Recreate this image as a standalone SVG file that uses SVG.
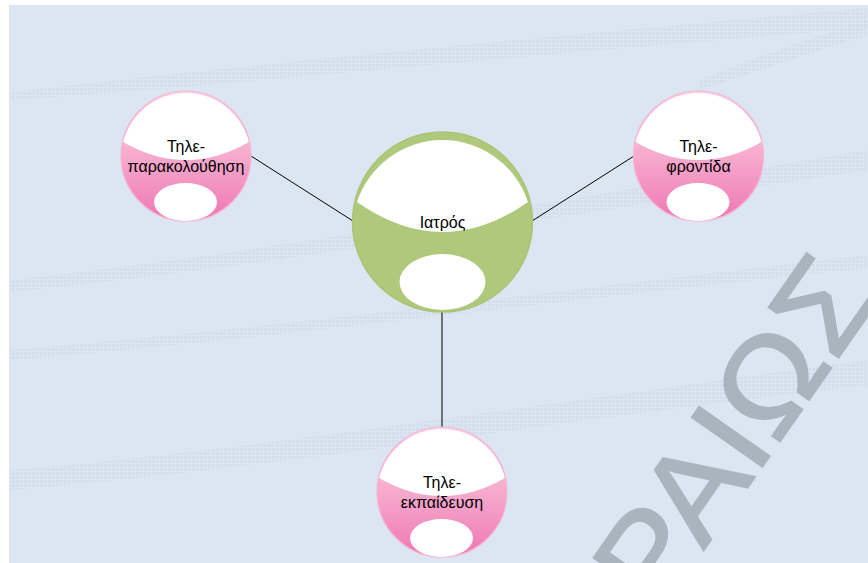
<svg xmlns="http://www.w3.org/2000/svg" width="868" height="563" viewBox="0 0 868 563">
  <defs>
    <linearGradient id="pinkFill" x1="0" y1="0" x2="0" y2="1">
      <stop offset="0" stop-color="#fbd3e6"/>
      <stop offset="0.5" stop-color="#f6aacd"/>
      <stop offset="1" stop-color="#ef77b2"/>
    </linearGradient>
    <pattern id="mesh" width="4" height="4" patternUnits="userSpaceOnUse">
      <rect width="4" height="4" fill="#dce6f2"/>
      <rect width="3" height="3" fill="#ccd8e7"/>
    </pattern>
    <clipPath id="frame">
      <rect x="9" y="5" width="859" height="558"/>
    </clipPath>
  </defs>
  <style>
    .link { stroke: #000000; stroke-width: 1; fill: none; }
    .label { font-family: "Liberation Sans", Arial, sans-serif; font-size: 16px; fill: #000000; text-anchor: middle; }
    .pink { fill: url(#pinkFill); stroke: #f7b3d3; stroke-width: 1.2; }
    .green { fill: #afc97c; stroke: #a9c474; stroke-width: 1.5; }
    .hole { fill: #ffffff; }
    .band { fill: url(#mesh); opacity: 0.5; }
    .mark { font-family: "Liberation Sans", Arial, sans-serif; font-size: 125px; fill: #aab4be; stroke: #aab4be; stroke-width: 2; }
  </style>

  <!-- page -->
  <rect width="868" height="563" fill="#ffffff"/>
  <g clip-path="url(#frame)">
    <rect x="9" y="5" width="859" height="558" fill="#dce6f2"/>
    <!-- soft swooshes in the backdrop -->
    <path class="band" d="M10,92 C200,70 500,40 868,8 L868,28 C520,55 230,85 10,100 Z"/>
    <path class="band" d="M10,280 C250,255 560,200 868,150 L868,170 C560,215 260,268 10,292 Z"/>
    <path class="band" d="M10,350 C260,330 560,290 868,255 L868,268 C560,300 260,340 10,360 Z"/>
    <path class="band" d="M10,470 C260,450 560,400 868,360 L868,385 C560,420 260,470 10,490 Z"/>
    <path class="band" d="M700,80 C760,55 820,35 868,20 L868,35 C820,50 760,70 700,90 Z"/>
    <!-- watermark -->
    <text class="mark" transform="translate(528.6,800.3) rotate(-55) scale(1.08,1)">ΠΕΙΡΑΙΩΣ</text>
  </g>

  <!-- connectors -->
  <g id="connectors">
    <line class="link" x1="251" y1="156" x2="353" y2="221"/>
    <line class="link" x1="532" y1="221" x2="634" y2="156"/>
    <line class="link" x1="442" y1="312" x2="442" y2="427"/>
  </g>

  <!-- central node -->
  <g id="node-iatros">
    <circle class="green" cx="442.5" cy="222" r="90"/>
    <path class="hole" d="M357,202 A90,90 0 0 1 528,202 Q442.5,262 357,202 Z"/>
    <ellipse class="hole" cx="442.5" cy="282" rx="43" ry="28"/>
    <text class="label" x="442.5" y="228">Ιατρός</text>
  </g>

  <!-- left node -->
  <g id="node-parakolouthisi">
    <circle class="pink" cx="186" cy="156" r="65"/>
    <path class="hole" d="M123,142 A65,65 0 0 1 249,142 Q186,178 123,142 Z"/>
    <ellipse class="hole" cx="185.5" cy="202" rx="31.5" ry="19"/>
    <text class="label" x="186" y="152">Τηλε-</text>
    <text class="label" x="186" y="172">παρακολούθηση</text>
  </g>

  <!-- right node -->
  <g id="node-fronitida">
    <circle class="pink" cx="698.5" cy="156" r="65"/>
    <path class="hole" d="M635.5,142 A65,65 0 0 1 761.5,142 Q698.5,178 635.5,142 Z"/>
    <ellipse class="hole" cx="698" cy="202" rx="31.5" ry="19"/>
    <text class="label" x="698.5" y="152">Τηλε-</text>
    <text class="label" x="698.5" y="172">φροντίδα</text>
  </g>

  <!-- bottom node -->
  <g id="node-ekpaideusi">
    <circle class="pink" cx="442" cy="492" r="65"/>
    <path class="hole" d="M379,478 A65,65 0 0 1 505,478 Q442,514 379,478 Z"/>
    <ellipse class="hole" cx="441.5" cy="538" rx="31.5" ry="19"/>
    <text class="label" x="442" y="488">Τηλε-</text>
    <text class="label" x="442" y="508">εκπαίδευση</text>
  </g>
</svg>
